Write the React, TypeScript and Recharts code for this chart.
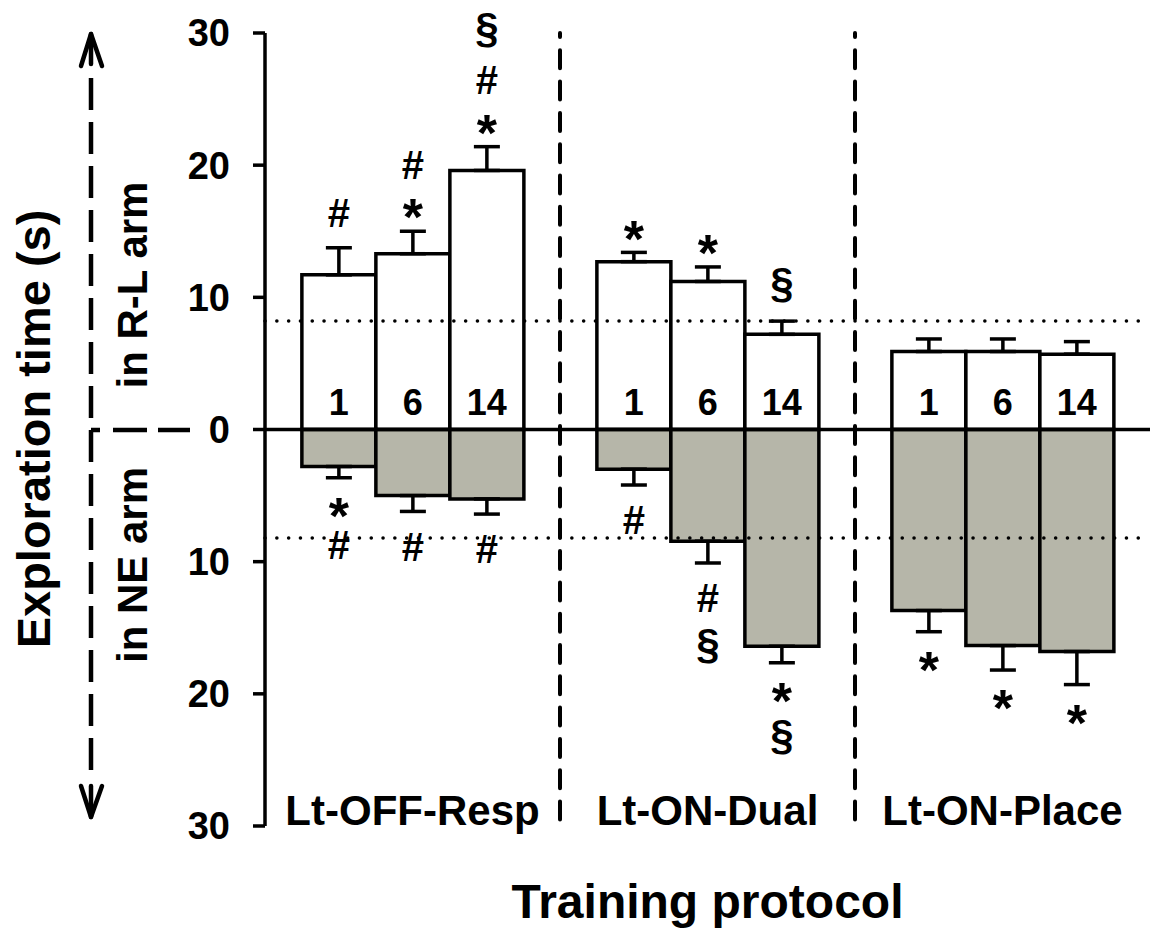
import React from 'react';
import { BarChart, Bar, XAxis, YAxis, ReferenceLine, ErrorBar, LabelList } from 'recharts';

const FONT = "'Liberation Sans', Arial, Helvetica, sans-serif";

// categories and training days
const categories = ['Lt-OFF-Resp', 'Lt-ON-Dual', 'Lt-ON-Place'];
const dayLabels = ['1', '6', '14'];

// exploration time in R-L arm (s), mean and SEM
const rlDay1 = [11.7, 12.7, 5.9];
const rlDay6 = [13.3, 11.2, 5.9];
const rlDay14 = [19.6, 7.2, 5.7];
const rlSem1 = [2.05, 0.7, 0.95];
const rlSem6 = [1.7, 1.1, 0.95];
const rlSem14 = [1.8, 1.0, 0.95];

// exploration time in NE arm (s), mean and SEM (drawn downwards)
const neDay1 = [2.8, 3.0, 13.7];
const neDay6 = [5.0, 8.45, 16.35];
const neDay14 = [5.25, 16.4, 16.8];
const neSem1 = [0.85, 1.2, 1.6];
const neSem6 = [1.2, 1.65, 1.85];
const neSem14 = [1.15, 1.25, 2.5];

// significance marks, listed from the bar outwards
const rlMarks1 = ['#', '*', ''];
const rlMarks6 = ['*#', '*', ''];
const rlMarks14 = ['*#§', '§', ''];
const neMarks1 = ['*#', '#', '*'];
const neMarks6 = ['#', '#§', '*'];
const neMarks14 = ['#', '*§', '*'];

const chanceLevel = 8.2;
const yTicks = [-30, -20, -10, 0, 10, 20, 30];

const data = categories.map((name, i) => ({
  name,
  rl1: rlDay1[i],
  rl6: rlDay6[i],
  rl14: rlDay14[i],
  ne1: -neDay1[i],
  ne6: -neDay6[i],
  ne14: -neDay14[i],
  rlErr1: [0, rlSem1[i]],
  rlErr6: [0, rlSem6[i]],
  rlErr14: [0, rlSem14[i]],
  neErr1: [neSem1[i], 0],
  neErr6: [neSem6[i], 0],
  neErr14: [neSem14[i], 0],
}));

const W = 1152;
const H = 936;
const PLOT_LEFT = 265;
const PLOT_RIGHT = 1150;
const PLOT_TOP = 33;
const PLOT_BOTTOM = 826;

const SYM_SIZE: Record<string, number> = { '*': 52, '#': 40, '§': 42 };
const SYM_LIFT: Record<string, number> = { '*': 0.58, '#': 0.36, '§': 0.27 };

const makeMarks = (values: number[], errs: number[], marks: string[], up: boolean) => (props: any) => {
  const vb = props.viewBox ?? props;
  const i = props.index;
  const m = marks[i];
  if (!m || vb == null) return null;
  const top = Math.min(vb.y, vb.y + vb.height);
  const bottom = Math.max(vb.y, vb.y + vb.height);
  const pxPerUnit = Math.abs(vb.height) / values[i];
  const cx = vb.x + vb.width / 2;
  const capY = up ? top - errs[i] * pxPerUnit : bottom + errs[i] * pxPerUnit;
  let off = 0;
  return (
    <g>
      {Array.from(m).map((ch, k) => {
        off = k === 0 ? (ch === '*' ? 26 : 35) : off + 41 + (ch === '§' ? 8 : 0);
        const center = up ? capY - off : capY + off;
        const fs = SYM_SIZE[ch];
        return (
          <text key={k} x={cx} y={center + SYM_LIFT[ch] * fs} textAnchor="middle"
            fontSize={fs} fontWeight={700} fontFamily={FONT} fill="#000">
            {ch}
          </text>
        );
      })}
    </g>
  );
};

const makeDayLabel = (label: string) => (props: any) => {
  const vb = props.viewBox ?? props;
  if (vb == null) return null;
  const bottom = Math.max(vb.y, vb.y + vb.height);
  return (
    <text x={vb.x + vb.width / 2} y={bottom - 15} textAnchor="middle"
      fontSize={36} fontWeight={700} fontFamily={FONT} fill="#000">
      {label}
    </text>
  );
};

const CategoryTick = (props: any) => (
  <text x={props.x} y={props.y - 1} textAnchor="middle" fontSize={42}
    fontWeight={700} fontFamily={FONT} fill="#000">
    {props.payload.value}
  </text>
);

const Overlay = () => {
  const band = (PLOT_RIGHT - PLOT_LEFT) / 3;
  const ax = 91;
  return (
    <svg width={W} height={H} style={{ position: 'absolute', left: 0, top: 0, pointerEvents: 'none' }}>
      {/* arrow */}
      <g stroke="#000" strokeWidth={4.5} fill="none" strokeLinecap="round" strokeLinejoin="round">
        <line x1={ax} y1={78} x2={ax} y2={778} strokeDasharray="32 12" strokeLinecap="butt" />
        <polyline points={`${ax - 10},66 ${ax},34 ${ax + 11},66`} />
        <line x1={ax} y1={34} x2={ax} y2={64} />
        <polyline points={`${ax - 10},786 ${ax},817 ${ax + 11},786`} />
        <line x1={ax} y1={786} x2={ax} y2={817} />
        <path d="M91 430 H100 M113 430 H147 M158 430 H190" strokeLinecap="butt" />
      </g>
      {[1, 2].map(k => (
        <line key={k} x1={PLOT_LEFT + band * k} y1={33} x2={PLOT_LEFT + band * k} y2={830}
          stroke="#000" strokeWidth={4} strokeDasharray="18 13.3" strokeDashoffset={14} strokeLinecap="round" />
      ))}
      <g fontFamily={FONT} fontWeight={700} fill="#000" textAnchor="middle">
        <text transform="translate(50,429) rotate(-90)" fontSize={47}>Exploration time (s)</text>
        <text transform="translate(147,285) rotate(-90)" fontSize={42}>in R-L arm</text>
        <text transform="translate(147,565) rotate(-90)" fontSize={42}>in NE arm</text>
      </g>
    </svg>
  );
};

const bars = [
  { key: 'rl1', stack: 'd1', err: 'rlErr1', vals: rlDay1, sems: rlSem1, marks: rlMarks1, up: true, day: dayLabels[0] },
  { key: 'rl6', stack: 'd6', err: 'rlErr6', vals: rlDay6, sems: rlSem6, marks: rlMarks6, up: true, day: dayLabels[1] },
  { key: 'rl14', stack: 'd14', err: 'rlErr14', vals: rlDay14, sems: rlSem14, marks: rlMarks14, up: true, day: dayLabels[2] },
  { key: 'ne1', stack: 'd1', err: 'neErr1', vals: neDay1, sems: neSem1, marks: neMarks1, up: false, day: '' },
  { key: 'ne6', stack: 'd6', err: 'neErr6', vals: neDay6, sems: neSem6, marks: neMarks6, up: false, day: '' },
  { key: 'ne14', stack: 'd14', err: 'neErr14', vals: neDay14, sems: neSem14, marks: neMarks14, up: false, day: '' },
];

export default function App() {
  return (
    <div style={{ position: 'absolute', left: 0, top: 0, width: W, height: H, background: '#fff' }}>
      <BarChart width={W} height={H} data={data} stackOffset="sign" barCategoryGap="12.5%" barGap={0}
        margin={{ top: PLOT_TOP, right: W - PLOT_RIGHT, left: 0, bottom: 0 }}>
        <XAxis dataKey="name" height={H - PLOT_BOTTOM} axisLine={false} tickLine={false} tickSize={0}
          tickMargin={0} interval={0} tick={<CategoryTick />}
          label={{ value: 'Training protocol', position: 'insideBottom', offset: 18, fill: '#000',
            fontSize: 48, fontWeight: 700, fontFamily: FONT }} />
        <YAxis domain={[-30, 30]} ticks={yTicks} allowDataOverflow width={PLOT_LEFT} tickSize={12} tickMargin={23}
          tickFormatter={(v: number) => String(Math.abs(v))}
          axisLine={{ stroke: '#000', strokeWidth: 3.5 }} tickLine={{ stroke: '#000', strokeWidth: 3.5 }}
          tick={{ fill: '#000', fontSize: 38, fontWeight: 700, fontFamily: FONT }} />
        {bars.map(b => (
          <Bar key={b.key} dataKey={b.key} stackId={b.stack} fill={b.up ? '#ffffff' : '#b6b6a9'}
            stroke="#000" strokeWidth={3.5} isAnimationActive={false}>
            <ErrorBar dataKey={b.err} width={13} stroke="#000" strokeWidth={3.5} direction="y" />
            <LabelList content={makeMarks(b.vals, b.sems, b.marks, b.up)} />
            {b.up && <LabelList content={makeDayLabel(b.day)} />}
          </Bar>
        ))}
        <ReferenceLine y={0} stroke="#000" strokeWidth={3.5} />
        <ReferenceLine y={chanceLevel} stroke="#000" strokeWidth={3.5} strokeDasharray="0.1 11.7" strokeLinecap="round" />
        <ReferenceLine y={-chanceLevel} stroke="#000" strokeWidth={3.5} strokeDasharray="0.1 11.7" strokeLinecap="round" />
      </BarChart>
      <Overlay />
    </div>
  );
}
